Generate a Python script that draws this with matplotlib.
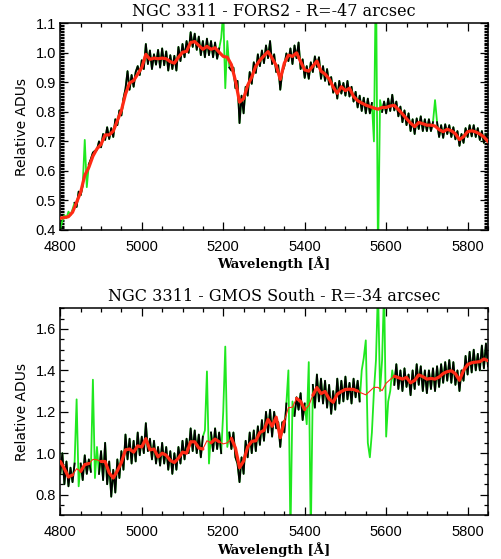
import numpy as np
import matplotlib
matplotlib.use("Agg")
import matplotlib.pyplot as plt
from matplotlib.ticker import MultipleLocator

# ---------------- data ----------------
wl_start, wl_end = 4800, 5850
flux_step = 5
model_step = 10

titles = ["NGC 3311 - FORS2 - R=-47 arcsec",
          "NGC 3311 - GMOS South - R=-34 arcsec"]

top_flux = [
    0.405, 0.430, 0.450, 0.440, 0.462, 0.450, 0.470, 0.492, 0.478, 0.530,
    0.518, 0.552, 0.705, 0.545, 0.622, 0.640, 0.662, 0.668, 0.672, 0.700,
    0.680, 0.725, 0.705, 0.748, 0.708, 0.745, 0.715, 0.775, 0.755, 0.805,
    0.788, 0.845, 0.878, 0.938, 0.875, 0.925, 0.885, 0.935, 0.955, 0.925,
    0.975, 0.945, 1.030, 0.962, 1.008, 0.945, 0.995, 0.960, 1.010, 0.950,
    1.015, 0.958, 1.005, 0.940, 0.992, 0.945, 0.990, 0.940, 1.020, 0.972,
    1.030, 0.985, 1.040, 1.000, 1.070, 1.020, 1.065, 1.010, 1.055, 0.992,
    1.040, 0.985, 1.048, 0.992, 1.040, 0.985, 1.035, 0.980, 1.015, 1.050,
    1.140, 0.880, 1.040, 0.950, 0.940, 0.950, 0.880, 0.905, 0.762, 0.855,
    0.795, 0.885, 0.855, 0.935, 0.895, 0.968, 0.932, 0.995, 0.955, 1.008,
    0.965, 1.025, 0.982, 1.040, 0.962, 0.995, 0.935, 0.958, 0.875, 0.935,
    0.955, 0.998, 0.972, 1.015, 0.962, 1.025, 0.982, 1.035, 0.945, 0.978,
    0.915, 0.955, 0.912, 0.968, 0.935, 0.988, 0.952, 0.985, 0.912, 0.955,
    0.905, 0.945, 0.892, 0.918, 0.865, 0.898, 0.845, 0.905, 0.862, 0.898,
    0.855, 0.905, 0.852, 0.885, 0.835, 0.868, 0.815, 0.855, 0.803, 0.848,
    0.795, 0.845, 0.795, 0.830, 0.700, 1.300, 0.300, 0.840, 0.800, 0.835,
    0.795, 0.845, 0.803, 0.858, 0.805, 0.835, 0.785, 0.818, 0.765, 0.805,
    0.755, 0.795, 0.735, 0.775, 0.725, 0.778, 0.742, 0.785, 0.735, 0.775,
    0.735, 0.775, 0.735, 0.765, 0.840, 0.765, 0.715, 0.755, 0.712, 0.758,
    0.725, 0.755, 0.715, 0.748, 0.707, 0.735, 0.685, 0.725, 0.695, 0.745,
    0.715, 0.755, 0.717, 0.755, 0.715, 0.745, 0.705, 0.735, 0.695, 0.725,
    0.700]

top_model = [
    0.440, 0.442, 0.445, 0.460, 0.494, 0.528, 0.585, 0.612, 0.650, 0.675,
    0.690, 0.722, 0.722, 0.735, 0.770, 0.805, 0.860, 0.898, 0.906, 0.928,
    0.950, 0.995, 0.978, 0.982, 0.980, 0.982, 0.980, 0.970, 0.965, 0.985,
    1.002, 1.005, 1.035, 1.038, 1.025, 1.012, 1.022, 1.012, 1.017, 1.002,
    0.988, 0.985, 0.960, 0.905, 0.833, 0.845, 0.890, 0.918, 0.955, 0.975,
    0.990, 1.004, 0.982, 0.957, 0.910, 0.965, 0.992, 0.988, 1.000, 0.970,
    0.942, 0.938, 0.955, 0.972, 0.938, 0.928, 0.912, 0.884, 0.863, 0.885,
    0.872, 0.880, 0.852, 0.838, 0.830, 0.823, 0.818, 0.813, 0.809, 0.815,
    0.815, 0.820, 0.822, 0.808, 0.793, 0.777, 0.762, 0.750, 0.764, 0.760,
    0.755, 0.755, 0.752, 0.740, 0.733, 0.741, 0.736, 0.726, 0.706, 0.716,
    0.733, 0.736, 0.732, 0.725, 0.715, 0.700]

top_masks = [(4798, 4832), (4857, 4867), (5193, 5213), (5567, 5588), (5717, 5723)]

bot_flux = [
    0.900, 1.000, 0.850, 0.960, 0.840, 0.930, 0.860, 0.950, 1.260, 0.840,
    0.950, 0.870, 0.990, 0.900, 0.970, 0.910, 1.355, 0.880, 1.030, 0.900,
    1.010, 0.870, 1.050, 0.850, 0.960, 0.790, 0.920, 0.810, 0.970, 0.880,
    1.010, 0.920, 1.090, 0.970, 1.070, 0.950, 1.060, 0.960, 1.100, 0.990,
    1.080, 1.000, 1.145, 1.010, 1.070, 0.970, 1.060, 0.950, 1.030, 0.940,
    1.050, 0.950, 1.030, 0.920, 1.010, 0.900, 1.000, 0.920, 1.030, 0.950,
    1.060, 0.970, 1.070, 1.000, 1.120, 1.010, 1.110, 1.000, 1.090, 0.980,
    1.080, 1.110, 1.395, 0.950, 1.100, 1.010, 1.120, 1.020, 1.100, 1.000,
    1.200, 1.515, 1.030, 1.100, 1.020, 1.100, 0.980, 0.950, 0.860, 0.980,
    0.900, 1.060, 0.980, 1.100, 1.000, 1.110, 1.010, 1.130, 1.040, 1.160,
    1.060, 1.200, 1.100, 1.210, 1.080, 1.200, 1.120, 1.150, 1.030, 1.150,
    1.100, 1.240, 1.400, 0.600, 1.250, 1.180, 1.270, 1.210, 1.290, 1.160,
    1.240, 1.140, 1.440, 0.600, 1.330, 1.220, 1.380, 1.250, 1.360, 1.240,
    1.350, 1.220, 1.330, 1.190, 1.300, 1.210, 1.360, 1.240, 1.350, 1.250,
    1.370, 1.260, 1.340, 1.240, 1.360, 1.270, 1.350, 1.250, 1.400, 1.460,
    1.545, 1.050, 0.980, 1.100, 1.300, 1.450, 1.800, 1.300, 1.450, 1.800,
    1.080, 1.250, 1.300, 1.400, 1.330, 1.430, 1.310, 1.400, 1.300, 1.410,
    1.320, 1.380, 1.280, 1.400, 1.310, 1.430, 1.330, 1.420, 1.300, 1.400,
    1.290, 1.400, 1.310, 1.410, 1.300, 1.420, 1.320, 1.430, 1.340, 1.440,
    1.350, 1.450, 1.340, 1.440, 1.330, 1.400, 1.300, 1.400, 1.350, 1.470,
    1.380, 1.490, 1.390, 1.500, 1.400, 1.480, 1.400, 1.520, 1.410, 1.530,
    1.420]

bot_model = [
    0.960, 0.925, 0.885, 0.895, 0.925, 0.912, 0.945, 0.950, 0.970, 0.968,
    0.960, 0.960, 0.905, 0.880, 0.915, 0.955, 1.016, 1.020, 1.005, 1.035,
    1.030, 1.070, 1.016, 1.020, 0.982, 1.000, 0.990, 0.965, 0.955, 0.976,
    1.005, 1.000, 1.055, 1.055, 1.025, 1.020, 1.060, 1.050, 1.068, 1.055,
    1.045, 1.050, 1.072, 1.025, 0.930, 0.962, 1.030, 1.057, 1.060, 1.100,
    1.110, 1.163, 1.130, 1.174, 1.075, 1.155, 1.220, 1.222, 1.265, 1.250,
    1.210, 1.230, 1.280, 1.317, 1.288, 1.298, 1.262, 1.246, 1.285, 1.298,
    1.308, 1.309, 1.308, 1.300, 1.290, 1.282, 1.300, 1.318, 1.318, 1.302,
    1.338, 1.356, 1.372, 1.365, 1.358, 1.366, 1.340, 1.352, 1.378, 1.370,
    1.358, 1.361, 1.358, 1.368, 1.385, 1.394, 1.398, 1.384, 1.352, 1.400,
    1.428, 1.437, 1.440, 1.442, 1.455, 1.447]

bot_masks = [(4836, 4846), (4878, 4892), (5153, 5167), (5198, 5212),
             (5358, 5372), (5403, 5418), (5537, 5617)]

xticks = [4800, 5000, 5200, 5400, 5600, 5800]
top_yticks = [0.4, 0.5, 0.6, 0.7, 0.8, 0.9, 1.0, 1.1]
bot_yticks = [0.8, 1.0, 1.2, 1.4, 1.6]

# ---------------- plotting ----------------
C_BLACK = "black"
C_GREEN = "#1fe81f"
C_RED = "#ff2a14"

fig = plt.figure(figsize=(5.01, 5.59), dpi=100)
ax1 = fig.add_axes([0.1204, 0.5886, 0.8536, 0.3697])
ax2 = fig.add_axes([0.1204, 0.0782, 0.8536, 0.3703])

wl_f = np.arange(wl_start, wl_end + 1, flux_step)
wl_m = np.arange(wl_start, wl_end + 1, model_step)


def in_mask(wl, masks):
    m = np.zeros(len(wl), dtype=bool)
    for a, b in masks:
        m |= (wl >= a) & (wl <= b)
    return m


def draw(ax, flux, model, masks, thin_red, ylim, yticks, yminor, title):
    flux = np.asarray(flux, float)
    model = np.asarray(model, float)
    mf = in_mask(wl_f, masks)
    ax.plot(wl_f, flux, color=C_GREEN, lw=1.3, zorder=2)
    fb = flux.copy()
    fb[mf] = np.nan
    ax.plot(wl_f, fb, color=C_BLACK, lw=1.3, zorder=3)
    if thin_red:
        mm = in_mask(wl_m, masks)
        ax.plot(wl_m, model, color=C_RED, lw=0.8, zorder=4)
        mth = model.copy()
        mth[mm] = np.nan
        ax.plot(wl_m, mth, color=C_RED, lw=2.3, zorder=5,
                solid_capstyle="round")
    else:
        ax.plot(wl_m, model, color=C_RED, lw=2.3, zorder=5)
    ax.set_xlim(wl_start, wl_end)
    ax.set_ylim(*ylim)
    ax.set_xticks(xticks)
    ax.set_yticks(yticks)
    ax.set_yticklabels([f"{v:.1f}" for v in yticks])
    ax.xaxis.set_minor_locator(MultipleLocator(50))
    ax.yaxis.set_minor_locator(MultipleLocator(yminor))
    ax.tick_params(which="both", direction="in", top=True, right=True,
                   width=0.9, color="black")
    ax.tick_params(which="major", length=6)
    ax.tick_params(which="minor", length=3)
    ax.tick_params(axis="x", which="major", pad=7)
    ax.tick_params(axis="y", which="major", pad=3)
    for lab in ax.get_xticklabels() + ax.get_yticklabels():
        lab.set_fontfamily("Liberation Sans")
        lab.set_fontsize(10.5)
    for sp in ax.spines.values():
        sp.set_linewidth(1.1)
    ax.set_title(title, fontfamily="DejaVu Serif", fontsize=11.5, pad=5)
    ax.set_xlabel("Wavelength [Å]", fontfamily="DejaVu Serif",
                  fontweight="bold", fontsize=9.5, labelpad=2)
    ax.set_ylabel("Relative ADUs", fontfamily="DejaVu Sans",
                  fontsize=10, labelpad=5)


draw(ax1, top_flux, top_model, top_masks, False, (0.4, 1.1), top_yticks,
     0.005, titles[0])
draw(ax2, bot_flux, bot_model, bot_masks, True, (0.7, 1.7), bot_yticks,
     0.05, titles[1])

fig.savefig("out.png", dpi=100)
